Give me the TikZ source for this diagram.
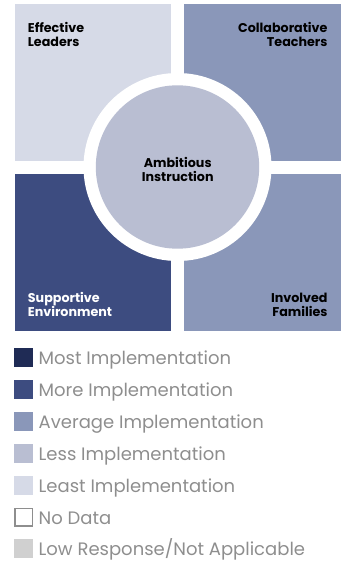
\documentclass[tikz,border=0pt]{standalone}
\usepackage{fontspec}
\setmainfont{Poppins}
\usepackage{tikz}
\usetikzlibrary{positioning}

\definecolor{mostimp}{HTML}{1F2B55}
\definecolor{moreimp}{HTML}{3D4C80}
\definecolor{averageimp}{HTML}{8A97B9}
\definecolor{lessimp}{HTML}{B9BED2}
\definecolor{leastimp}{HTML}{D6DAE7}
\definecolor{lowresp}{HTML}{D0D0D0}
\definecolor{legendgray}{HTML}{8E8E8E}

\tikzset{
  quadlabel/.style={font=\bfseries\fontsize{12.7}{14.5}\selectfont, inner sep=0pt},
  swatch/.style={minimum size=19pt, inner sep=0pt, draw=none},
  legendtext/.style={font=\fontsize{18}{19}\selectfont, text=legendgray, inner sep=0pt, anchor=base west}
}

\begin{document}
\begin{tikzpicture}[x=1pt, y=-1pt]
				\useasboundingbox (0,0) rectangle (344,563);
				
				% four quadrants
				\fill [leastimp] (15,4) rectangle (171,160.5);
				\fill [averageimp] (184,4) rectangle (341,160.5);
				\fill [moreimp] (15,173.5) rectangle (171,330.5);
				\fill [averageimp] (184,173.5) rectangle (341,330.5);
				
				% centre circle with white ring
				\fill [white] (177.5,167) circle [radius=94pt];
				\node [circle, fill=lessimp, minimum size=163.4pt, inner sep=0pt] (instruction) at (177.5,167) {};
				\node [quadlabel, align=center, anchor=base] (instructionlabel) at (177.7,181.7) {Ambitious\\Instruction};
				
				\node [quadlabel, align=left, anchor=base west] (leaders) at (27.7,46.7) {Effective\\Leaders};
				\node [quadlabel, align=right, anchor=base east] (teachers) at (327.7,46.7) {Collaborative\\Teachers};
				\node [quadlabel, align=left, anchor=base west, text=white] (environment) at (27.7,316.7) {Supportive\\Environment};
				\node [quadlabel, align=right, anchor=base east] (families) at (327.7,316.7) {Involved\\Families};
				
				% legend
				\node [swatch, fill=mostimp] (mostbox) at (23.5,357.3) {};
				\node [legendtext] (mosttext) at (38.5,364) {Most Implementation};
				\node [swatch, fill=moreimp] (morebox) at (23.5,389.3) {};
				\node [legendtext] (moretext) at (38.5,396) {More Implementation};
				\node [swatch, fill=averageimp] (averagebox) at (23.5,421.3) {};
				\node [legendtext] (averagetext) at (38.5,428) {Average Implementation};
				\node [swatch, fill=lessimp] (lessbox) at (23.5,453.3) {};
				\node [legendtext] (lesstext) at (38.5,460) {Less Implementation};
				\node [swatch, fill=leastimp] (leastbox) at (23.5,485.3) {};
				\node [legendtext] (leasttext) at (38.5,492) {Least Implementation};
				\node [swatch, fill=white, draw=legendgray, line width=1.5pt, minimum size=17.5pt] (nodatabox) at (23.5,517.3) {};
				\node [legendtext] (nodatatext) at (38.5,524) {No Data};
				\node [swatch, fill=lowresp] (lowbox) at (23.5,548.8) {};
				\node [legendtext] (lowtext) at (38.5,555.5) {Low Response/Not Applicable};
\end{tikzpicture}
\end{document}
